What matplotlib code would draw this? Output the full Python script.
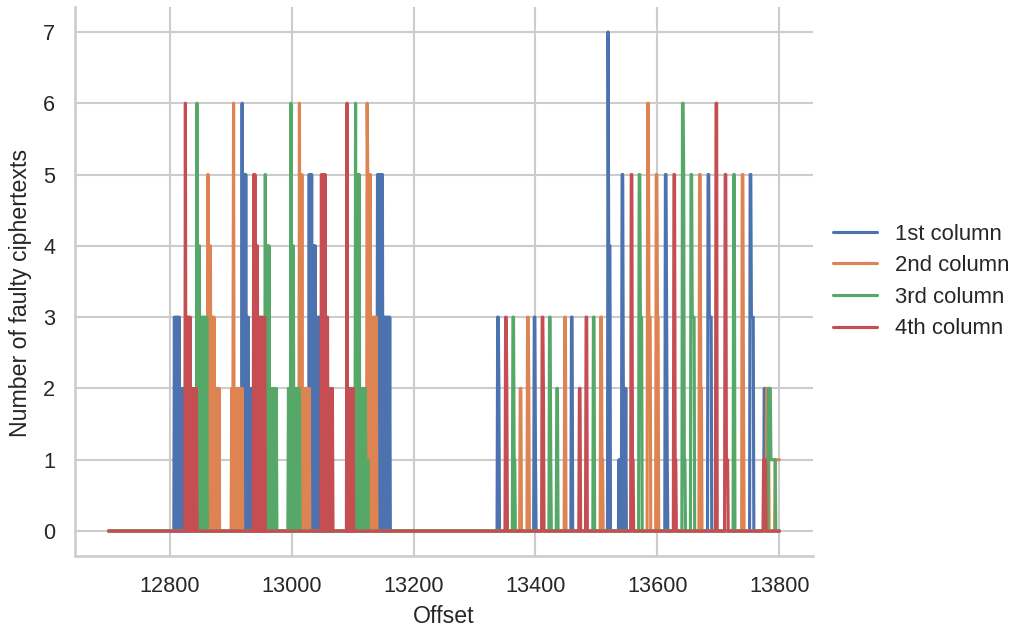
import numpy as np
import matplotlib
matplotlib.use("Agg")
import matplotlib.pyplot as plt
import seaborn as sns

sns.set_theme(style="whitegrid")
plt.rcParams['font.family'] = ['Liberation Sans', 'DejaVu Sans']
plt.rcParams['axes.labelsize'] = 11.1
plt.rcParams['xtick.labelsize'] = 10.4
plt.rcParams['ytick.labelsize'] = 10.4
plt.rcParams['legend.fontsize'] = 10.6

offset_start = 12700
offset_end = 13800

# each spike: (first offset, one digit per consecutive offset = faulty ciphertexts)
col1_spikes = [
    (12808, "3030303030202020"),
    (12919, "60505050303020202"),
    (13029, "50505040404030303030"),
    (13141, "505050505030303030303"),
    (13338, "332"),
    (13398, "331"),
    (13459, "33"),
    (13519, "7444"),
    (13537, "1010155202020"),
    (13613, "5531"),
    (13683, "553333"),
    (13752, "553333"),
    (13775, "2222"),
]
col2_spikes = [
    (12863, "50404030303020202020"),
    (12902, "202602020202020202"),
    (13013, "605050202020202020"),
    (13124, "65050503030303030"),
    (13375, "22"),
    (13387, "332"),
    (13448, "33"),
    (13507, "3311"),
    (13584, "66333"),
    (13598, "5533"),
    (13669, "5522"),
    (13739, "552"),
    (13779, "2222"),
    (13793, "11111111"),
]
col3_spikes = [
    (12845, "604040303030303030"),
    (12957, "5040404020202020202"),
    (12995, "20206040402020202020"),
    (13105, "605050502020202020101"),
    (13363, "3311"),
    (13423, "331"),
    (13435, "22"),
    (13495, "33"),
    (13570, "55333"),
    (13641, "66511"),
    (13655, "553333"),
    (13725, "55"),
    (13782, "222211111111"),
]
col4_spikes = [
    (12826, "60303030302020202020"),
    (12938, "5050404030303030303"),
    (13049, "5050505030302020202"),
    (13091, "602020202020"),
    (13351, "332"),
    (13411, "332"),
    (13472, "22"),
    (13483, "33"),
    (13557, "5511"),
    (13627, "5511"),
    (13696, "66"),
    (13711, "55111"),
    (13774, "1111"),
]
labels = ["1st column", "2nd column", "3rd column", "4th column"]


def build_series(spikes):
    offsets = np.arange(offset_start, offset_end + 1)
    counts = np.zeros(len(offsets), dtype=int)
    for start, digits in spikes:
        for i, d in enumerate(digits):
            counts[start - offset_start + i] = int(d)
    return offsets, counts


colors = sns.color_palette("deep", 4)

fig = plt.figure(figsize=(1019 / 150, 629 / 150), dpi=150)
ax = fig.add_axes([75 / 1019, 1 - 556 / 629, 738 / 1019, 549 / 629])

for spikes, lab, col in zip([col1_spikes, col2_spikes, col3_spikes, col4_spikes], labels, colors):
    x, y = build_series(spikes)
    ax.plot(x, y, color=col, label=lab, linewidth=1.5)

ax.set_xlabel("Offset")
ax.set_ylabel("Number of faulty ciphertexts")
ax.yaxis.set_label_coords(-0.058, 0.48)
ax.set_xticks([12800, 13000, 13200, 13400, 13600, 13800])
ax.set_yticks(range(8))
sns.despine(ax=ax)
ax.legend(loc="center left", bbox_to_anchor=(1.0, 0.5), frameon=False,
          labelspacing=0.48)

fig.savefig("out.png", dpi=150)
